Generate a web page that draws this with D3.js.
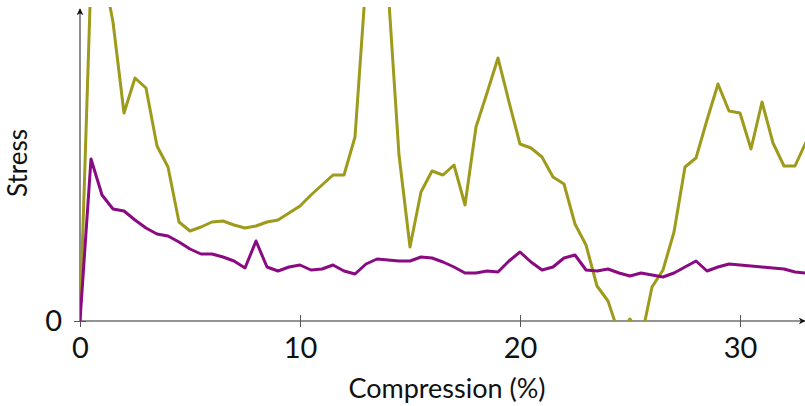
<!DOCTYPE html>
<html><head><meta charset="utf-8">
<script src="https://cdn.jsdelivr.net/npm/d3@7"></script>
<style>body{margin:0;background:#fff}svg{display:block}text{font-family:Lato,"DejaVu Sans",sans-serif;fill:#111}</style>
</head><body><svg id="c" width="805" height="406"></svg>
<script>
const compression = d3.range(0, 33.01, 0.5);
const purpleStress = [0,162,126,112,110,101,93,87,85,79,72,67,67,64,60,53,80,54,50,54,56,51,52,56,50,47,57,62,61,60,60,64,63,59,54,48,48,50,49,60,69,59,51,54,63,66,51,50,52,48,45,48,46,44,48,54,60,50,54,57,56,55,54,53,52,49,48];
const oliveStress = [0,346,356,299,208,243,233,175,154,99,90,94,99,100,96,93,95,99,101,108,115,126,136,146,146,184,341,401,334,166,74,129,150,146,156,116,194,228,263,219,177,173,164,144,137,97,76,35,20,-13,2,-19,34,51,89,154,163,201,237,210,208,172,219,178,155,155,179];
const xTicks = [0, 10, 20, 30];
const yTicks = [0];

const svg = d3.select("#c");
const x = d3.scaleLinear().domain([0, 33]).range([80, 806]);
const y = d3.scaleLinear().domain([0, 314]).range([321, 7]);

const defs = svg.append("defs");
defs.append("clipPath").attr("id", "clip").append("rect")
  .attr("x", 80).attr("y", 7).attr("width", 725).attr("height", 314);
defs.append("marker").attr("id", "arr").attr("viewBox", "0 0 10 10")
  .attr("refX", 9).attr("refY", 5).attr("markerWidth", 7).attr("markerHeight", 7)
  .attr("markerUnits", "userSpaceOnUse").attr("orient", "auto")
  .append("path").attr("d", "M0,0 L10,5 L0,10 L3,5 Z").attr("fill", "#111");

svg.append("line").attr("x1", 80).attr("y1", 321).attr("x2", 805).attr("y2", 321)
  .attr("stroke", "#707070").attr("stroke-width", 1.6).attr("marker-end", "url(#arr)");
svg.append("line").attr("x1", 80).attr("y1", 321).attr("x2", 80).attr("y2", 9)
  .attr("stroke", "#707070").attr("stroke-width", 1.6).attr("marker-end", "url(#arr)");

const xa = svg.append("g").attr("transform", "translate(0,321)")
  .call(d3.axisBottom(x).tickValues(xTicks).tickSizeInner(6).tickSizeOuter(0).tickPadding(10));
xa.select(".domain").remove();
xa.selectAll(".tick line").attr("y1", -6).attr("stroke", "#555").attr("stroke-width", 1);
xa.selectAll(".tick text").attr("font-size", 29).attr("font-family", "Lato, sans-serif").attr("fill", "#111").attr("dy", "0.71em");

const ya = svg.append("g").attr("transform", "translate(80,0)")
  .call(d3.axisLeft(y).tickValues(yTicks).tickSizeInner(6).tickSizeOuter(0).tickPadding(12));
ya.select(".domain").remove();
ya.selectAll(".tick line").attr("x1", 6).attr("stroke", "#555").attr("stroke-width", 1);
ya.selectAll(".tick text").attr("font-size", 29).attr("font-family", "Lato, sans-serif").attr("fill", "#111");

const line = d3.line().x((d, i) => x(compression[i])).y(d => y(d));
const g = svg.append("g").attr("clip-path", "url(#clip)");
g.append("path").datum(oliveStress).attr("d", line).attr("fill", "none")
  .attr("stroke", "#9e9a1c").attr("stroke-width", 3).attr("stroke-linejoin", "round");
g.append("path").datum(purpleStress).attr("d", line).attr("fill", "none")
  .attr("stroke", "#8a0a82").attr("stroke-width", 3).attr("stroke-linejoin", "round");

svg.append("text").attr("x", 447).attr("y", 398).attr("text-anchor", "middle")
  .attr("font-size", 27).text("Compression (%)");
svg.append("text").attr("transform", "translate(27,163) rotate(-90)").attr("text-anchor", "middle")
  .attr("font-size", 26).text("Stress");
</script></body></html>
